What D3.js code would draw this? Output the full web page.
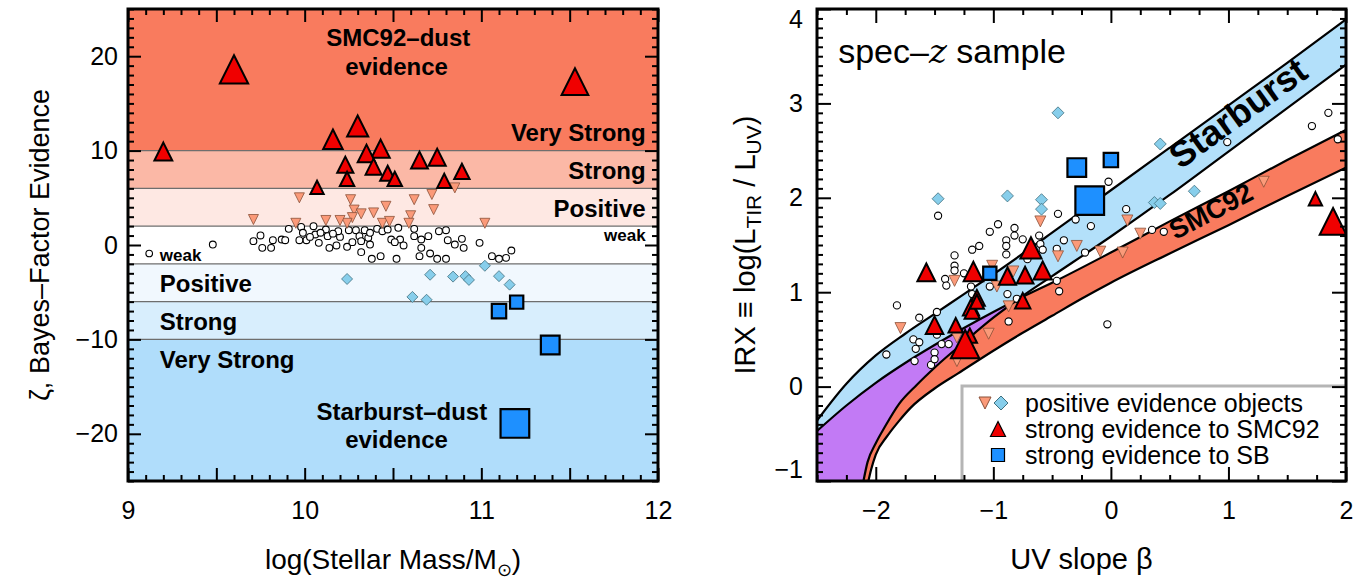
<!DOCTYPE html>
<html>
<head>
<meta charset="utf-8">
<script src="https://cdn.jsdelivr.net/npm/d3@7"></script>
<style>
  body { margin: 0; background: #fff; }
  svg text { font-family: "Liberation Sans", Arial, Helvetica, sans-serif; fill: #000; }
</style>
</head>
<body>
<svg id="fig" width="1371" height="580"></svg>
<script>
// ---------------- Left panel: Bayes-factor evidence vs stellar mass ----------------
const evidenceBounds = [25, 10, 6, 2, -2, -6, -10, -25];

const strongSmcMass = [9.60, 11.53, 9.20, 10.30, 10.16, 10.43, 10.35, 10.23, 10.39, 10.47, 10.51, 10.24, 10.65, 10.75, 10.89, 10.79, 10.07];
const strongSmcZeta = [18.6, 17.3, 9.9, 12.6, 11.2, 10.2, 9.7, 8.5, 8.3, 7.6, 7.0, 7.0, 9.0, 9.3, 7.8, 6.8, 6.1];

const strongSbMass = [11.19, 11.39, 11.10, 11.20];
const strongSbZeta = [-18.9, -10.6, -7.0, -6.05];

const posSmcMass = [9.97, 9.71, 9.95, 10.12, 10.26, 10.28, 10.32, 10.27, 10.24, 10.39, 10.46, 10.44, 10.48, 10.62, 10.60, 10.59, 10.72, 10.73, 10.85, 11.02, 10.20];
const posSmcZeta = [5.0, 2.7, 2.3, 2.6, 4.8, 3.7, 3.3, 2.9, 2.3, 3.4, 4.1, 2.3, 2.5, 4.8, 3.1, 2.3, 5.35, 3.75, 6.05, 2.3, 2.6];

const posSbMass = [10.24, 10.71, 10.84, 10.91, 10.93, 11.02, 11.10, 11.16, 10.61, 10.69];
const posSbZeta = [-3.6, -3.15, -3.35, -3.3, -3.7, -2.2, -3.3, -4.2, -5.5, -5.8];

const weakMass = [9.48, 9.71, 9.75, 9.76, 9.81, 9.82, 9.87, 9.89, 9.91, 9.98,
                  9.99, 10.01, 10.05, 10.06, 10.08, 10.12, 10.13, 10.14, 10.18, 10.20,
                  10.19, 10.24, 10.25, 10.29, 10.31, 10.32, 10.32, 10.34, 10.36, 10.37,
                  10.38, 10.41, 10.43, 10.44, 10.47, 10.49, 10.52, 10.53, 10.54, 10.56,
                  10.62, 10.62, 10.65, 10.66, 10.66, 10.70, 10.71, 10.76, 10.75, 10.80,
                  10.80, 10.81, 10.85, 10.89, 10.90, 10.99, 11.06, 11.10, 11.14, 11.17,
                  9.97, 10.03, 10.37, 10.51, 10.09, 10.16, 10.27];
const weakZeta = [0.05, 0.41, 1.01, -0.30, -0.30, 0.51, 0.58, 0.51, 1.71, 1.92,
                  1.29, 0.51, 1.99, 1.11, 0.23, 1.64, 0.94, -0.30, -0.05, 0.86,
                  1.46, -0.19, 1.57, 1.57, 0.94, 0.41, -0.76, 1.57, 0.76, 0.05,
                  -1.46, 1.71, -1.18, 1.46, 1.64, 0.58, -1.46, 1.82, 0.58, -0.05,
                  1.71, 0.94, -1.18, -0.30, 0.58, 0.94, -0.90, 1.46, -1.46, -1.46,
                  1.57, 0.51, 0.05, 0.65, -0.30, 0.23, -1.18, -1.46, -1.36, -0.58,
                  0.51, 0.86, 1.29, 0.30, 1.30, 1.20, 0.30];

const massTicks = [9, 10, 11, 12];
const zetaTicks = [-20, -10, 0, 10, 20];
const bandLabelsUpper = ["Very Strong", "Strong", "Positive"];
const bandLabelsLower = ["Positive", "Strong", "Very Strong"];

// ---------------- Right panel: IRX vs UV slope ----------------
const sbUpperBeta = [-2.5, -2.25, -2.0, -1.75, -1.5, -1.25, -1.0, -0.5, 0, 0.5, 1, 1.5, 2];
const sbUpperIrx  = [-0.36, 0.03, 0.33, 0.56, 0.77, 0.98, 1.19, 1.63, 2.08, 2.53, 2.98, 3.43, 3.89];
const sbLowerBeta = [-2.12, -2.07, -2.0, -1.92, -1.8, -1.65, -1.5, -1.25, -1.0, -0.75, -0.5, 0, 0.5, 1, 1.5, 2];
const sbLowerIrx  = [-1.1, -0.8, -0.6, -0.42, -0.18, 0.02, 0.20, 0.47, 0.73, 0.96, 1.17, 1.59, 2.03, 2.49, 2.95, 3.41];
const smcUpperBeta = [-2.5, -2.25, -2.0, -1.75, -1.5, -1.25, -1.0, -0.75, -0.5, 0, 0.5, 1, 1.5, 2];
const smcUpperIrx  = [-0.47, -0.2, 0.04, 0.25, 0.44, 0.62, 0.79, 0.95, 1.10, 1.42, 1.75, 2.07, 2.40, 2.72];
const smcLowerBeta = [-2.08, -2.04, -2.0, -1.9, -1.8, -1.7, -1.5, -1.3, -1.0, -0.75, -0.5, -0.25, 0, 0.5, 1, 1.5, 2];
const smcLowerIrx  = [-1.1, -0.88, -0.72, -0.52, -0.36, -0.22, -0.02, 0.14, 0.38, 0.57, 0.75, 0.93, 1.10, 1.41, 1.71, 2.02, 2.32];

const weakBeta = [-1.47, -1.82, -1.91, -1.67, -1.53, -1.63, -1.48, -1.41, -1.40, -1.33,
                  -1.33, -1.33, -1.25, -1.19, -1.18, -1.12, -1.03, -0.96, -0.89, -0.89,
                  -0.89, -0.82, -0.82, -0.75, -0.71, -0.61, -0.60, -0.58, -0.45, -0.46,
                  -0.40, -0.30, -0.22, -0.17, -0.02, -0.03, -0.46, -0.44, -0.87, -0.88,
                  -0.80, -1.48, -1.50, -1.50, -1.44, -1.66, -1.68, -1.63, -1.38, -1.18,
                  -1.03, 0.13, 0.35, 0.45, 0.99, 1.71, 1.85, 1.93];
const weakIrx  = [1.81, 0.86, 0.34, 0.27, 0.23, 0.73, 0.79, 1.14, 1.07, 1.39,
                  1.28, 1.23, 1.20, 1.06, 1.45, 1.49, 1.64, 1.72, 1.55, 1.49,
                  1.40, 1.68, 1.60, 1.56, 1.35, 1.60, 1.51, 1.45, 1.83, 1.46,
                  1.55, 1.77, 1.42, 1.70, 2.17, 0.66, 1.12, 1.01, 0.69, 0.98,
                  0.93, 0.55, 0.36, 0.29, 0.45, 0.40, 0.50, 0.47, 0.45, 0.98,
                  1.06, 1.88, 1.66, 1.64, 2.59, 2.76, 2.90, 2.62];

const posSmcBeta = [-1.79, -1.33, -1.31, -1.31, -1.04, -1.01, -0.97, -0.87, -0.83, -0.60, -0.45, -0.29, -0.09, 0.10, 0.14, 0.25, 1.30];
const posSmcIrx  = [0.62, 1.12, 0.52, 0.27, 0.56, 1.28, 1.06, 0.85, 1.22, 1.75, 1.38, 1.49, 1.43, 1.42, 1.76, 1.62, 2.17];

const posSbBeta = [-0.45, -1.47, -0.88, -0.59, -0.59, 0.42, 0.71, 0.37, 0.42];
const posSbIrx  = [2.90, 1.99, 2.02, 1.98, 1.88, 2.57, 2.07, 1.95, 1.94];

const strongSbBeta = [-0.18, -0.29, 0.00, -1.03];
const strongSbIrx  = [1.97, 2.32, 2.40, 1.20];
const strongSbZetaR = [-18.9, -10.6, -7.0, -6.05];

const strongSmcBeta = [-1.57, -1.17, -0.88, -0.73, -0.58, -0.68, -1.14, -1.19, -1.18, -0.75, -1.50, -1.32, -1.20, -1.24, 1.74, 1.89, -1.14];
const strongSmcIrx  = [1.21, 1.22, 1.17, 1.18, 1.23, 1.47, 0.94, 0.84, 0.80, 0.91, 0.65, 0.65, 0.54, 0.45, 1.99, 1.75, 0.90];
const strongSmcZetaR = [9.9, 11.2, 9.3, 9.0, 10.2, 12.6, 8.3, 8.5, 7.6, 7.8, 9.7, 7.0, 7.0, 18.6, 6.1, 17.3, 6.8];

const betaTicks = [-2, -1, 0, 1, 2];
const irxTicks = [-1, 0, 1, 2, 3, 4];
const legendLabels = ["positive evidence objects", "strong evidence to SMC92", "strong evidence to SB"];

// ---------------- styling ----------------
const C = {
  bands: ["#f97b5e", "#fbb8a6", "#fee8e3", "#ffffff", "#f1f8fe", "#d8eefd", "#b0ddfb"],
  red: "#f00000", blue: "#1e90ff", salmon: "#fb9a79", sky: "#87ceeb",
  sbBand: "#b3e0fa", smcBand: "#f97b5e", overlap: "#c27af5"
};

const svg = d3.select("#fig");
const xL = d3.scaleLinear().domain([9, 12]).range([128, 658]);
const yL = d3.scaleLinear().domain([-25, 25]).range([481, 9]);
const xR = d3.scaleLinear().domain([-2.5, 2]).range([817, 1346]);
const yR = d3.scaleLinear().domain([-1, 4]).range([481, 9]);

// marker shapes centred on the origin, w = full width
const shape = {
  up: w => `M0,${-w / 2}L${w / 2},${w / 2}L${-w / 2},${w / 2}Z`,
  down: w => `M0,${w / 2}L${w / 2},${-w / 2}L${-w / 2},${-w / 2}Z`,
  square: w => `M${-w / 2},${-w / 2}H${w / 2}V${w / 2}H${-w / 2}Z`,
  diamond: w => `M0,${-w / 2}L${w / 2},0L0,${w / 2}L${-w / 2},0Z`
};
const zetaWidth = z => 6 + 1.2 * Math.abs(z);

function markers(g, xs, ys, x, y, kind, width, fill, stroke, sw) {
  g.append("g").selectAll("path").data(d3.range(xs.length)).join("path")
    .attr("transform", i => `translate(${x(xs[i])},${y(ys[i])})`)
    .attr("d", i => shape[kind](typeof width === "function" ? width(i) : width))
    .attr("fill", fill).attr("stroke", stroke).attr("stroke-width", sw)
    .attr("stroke-linejoin", "miter");
}
function circles(g, xs, ys, x, y, r) {
  g.append("g").selectAll("circle").data(d3.range(xs.length)).join("circle")
    .attr("cx", i => x(xs[i])).attr("cy", i => y(ys[i])).attr("r", r)
    .attr("fill", "#fff").attr("stroke", "#000").attr("stroke-width", 1.1);
}

// IDL-style frame: inward ticks on all four sides
function frame(g, x, y, spec) {
  const [x0, x1] = x.range();
  const top = y.range()[1], bottom = y.range()[0];
  const add = (axisFn, scale, vals, len, tx, ty) => {
    g.append("g").attr("transform", `translate(${tx},${ty})`)
      .call(axisFn(scale).tickValues(vals).tickSize(-len).tickFormat(""))
      .call(s => s.select(".domain").remove())
      .call(s => s.selectAll("line").attr("stroke", "#000").attr("stroke-width", 2));
  };
  add(d3.axisBottom, x, spec.xMajor, spec.majLen, 0, bottom);
  add(d3.axisBottom, x, spec.xMinor, spec.minLen, 0, bottom);
  add(d3.axisTop, x, spec.xMajor, spec.majLen, 0, top);
  add(d3.axisTop, x, spec.xMinor, spec.minLen, 0, top);
  add(d3.axisLeft, y, spec.yMajor, spec.majLen, x0, 0);
  add(d3.axisLeft, y, spec.yMinor, spec.minLen, x0, 0);
  add(d3.axisRight, y, spec.yMajor, spec.majLen, x1, 0);
  add(d3.axisRight, y, spec.yMinor, spec.minLen, x1, 0);
  g.append("rect").attr("x", x0).attr("y", top).attr("width", x1 - x0).attr("height", bottom - top)
    .attr("fill", "none").attr("stroke", "#000").attr("stroke-width", 3);
}
const steps = (a, b, s, skip) => d3.range(Math.round((b - a) / s) + 1).map(i => +(a + i * s).toFixed(3))
  .filter(v => !skip.some(m => Math.abs(m - v) < 1e-6));

// ================= LEFT PANEL =================
const gL = svg.append("g");
gL.selectAll("rect.band").data(d3.range(C.bands.length)).join("rect")
  .attr("x", xL(9)).attr("width", xL(12) - xL(9))
  .attr("y", i => yL(evidenceBounds[i]))
  .attr("height", i => yL(evidenceBounds[i + 1]) - yL(evidenceBounds[i]))
  .attr("fill", i => C.bands[i]);
gL.selectAll("line.bound").data(evidenceBounds.slice(1, -1)).join("line")
  .attr("x1", xL(9)).attr("x2", xL(12)).attr("y1", d => yL(d)).attr("y2", d => yL(d))
  .attr("stroke", d => d === 0 ? "#000" : "#6e6e6e")
  .attr("stroke-width", d => d === 0 ? 3 : 1.3);

// evidence labels
const bold = (g, txt, x, y, size, anchor) => g.append("text").text(txt)
  .attr("x", x).attr("y", y).attr("font-size", size).attr("font-weight", "bold")
  .attr("text-anchor", anchor);
bold(gL, "SMC92\u2013dust", xL(10.53), 46, 24, "middle");
bold(gL, "evidence", xL(10.52), 75, 24, "middle");
[141, 179, 217].forEach((yy, i) => bold(gL, bandLabelsUpper[i], xL(11.93), yy, 24, "end"));
bold(gL, "weak", xL(11.93), 241, 17, "end");
bold(gL, "weak", xL(9.18), 261, 17, "start");
[292, 330, 368].forEach((yy, i) => bold(gL, bandLabelsLower[i], xL(9.18), yy, 24, "start"));
bold(gL, "Starburst\u2013dust", xL(10.55), 420, 24, "middle");
bold(gL, "evidence", xL(10.52), 448, 24, "middle");
circles(gL, [9.12], [-0.9], xL, yL, 3.3);

circles(gL, weakMass, weakZeta, xL, yL, 3.4);
markers(gL, posSmcMass, posSmcZeta, xL, yL, "down", 10, C.salmon, "#8a5038", 0.8);
markers(gL, posSbMass, posSbZeta, xL, yL, "diamond", 11, C.sky, "#40707f", 0.8);
markers(gL, strongSmcMass, strongSmcZeta, xL, yL, "up", i => zetaWidth(strongSmcZeta[i]), C.red, "#000", 2);
markers(gL, strongSbMass, strongSbZeta, xL, yL, "square", i => zetaWidth(strongSbZeta[i]), C.blue, "#000", 2.2);

frame(gL, xL, yL, {
  xMajor: steps(9, 12, 0.5, []), xMinor: steps(9, 12, 0.1, steps(9, 12, 0.5, [])),
  yMajor: steps(-20, 20, 10, []), yMinor: steps(-25, 25, 1, steps(-20, 20, 10, [])),
  majLen: 13, minLen: 6
});

// tick labels and titles
const tickLabels = (g, axis, tx, ty, size) => g.append("g").attr("transform", `translate(${tx},${ty})`)
  .call(axis).call(s => s.select(".domain").remove())
  .call(s => s.selectAll("text").attr("font-size", size)
    .attr("font-family", '"Liberation Sans", Arial, sans-serif'));
tickLabels(gL, d3.axisBottom(xL).tickValues(massTicks).tickSize(0).tickPadding(20).tickFormat(d3.format("d")), 0, 481, 25);
tickLabels(gL, d3.axisLeft(yL).tickValues(zetaTicks).tickSize(0).tickPadding(10).tickFormat(d3.format("d")), 128, 0, 25);

const xtL = gL.append("text").attr("x", xL(10.5)).attr("y", 569).attr("font-size", 28).attr("text-anchor", "middle");
xtL.append("tspan").text("log(Stellar Mass/M");
xtL.append("tspan").text("\u2299").attr("font-size", 18).attr("dy", 7);
xtL.append("tspan").text(")").attr("dy", -7);

gL.append("text").attr("transform", `translate(40,${yL(0)}) rotate(-90)`).attr("dy", "0.35em")
  .attr("text-anchor", "middle").attr("font-size", 27).text("\u03B6, Bayes\u2013Factor Evidence");

// ================= RIGHT PANEL =================
const gR = svg.append("g");
const defs = svg.append("defs");
defs.append("clipPath").attr("id", "plotR").append("rect")
  .attr("x", xR(-2.5)).attr("y", yR(4)).attr("width", xR(2) - xR(-2.5)).attr("height", yR(-1) - yR(4));

const pts = (bs, vs) => bs.map((b, i) => [xR(b), yR(vs[i])]);
const curve = d3.line().curve(d3.curveMonotoneX);
const upperA = pts(sbUpperBeta, sbUpperIrx), lowerC = pts(sbLowerBeta, sbLowerIrx);
const upperB = pts(smcUpperBeta, smcUpperIrx), lowerD = pts(smcLowerBeta, smcLowerIrx);
const floor = yR(-1.2);
const bandPath = (hi, lo) => curve(hi) + "L" + curve(lo.slice().reverse()).slice(1)
  + `L${lo[0][0]},${floor}L${hi[0][0]},${floor}Z`;
const sbPath = bandPath(upperA, lowerC), smcPath = bandPath(upperB, lowerD);

defs.append("clipPath").attr("id", "sbArea").append("path").attr("d", sbPath);

const bands = gR.append("g").attr("clip-path", "url(#plotR)");
bands.append("path").attr("d", sbPath).attr("fill", C.sbBand);
bands.append("path").attr("d", smcPath).attr("fill", C.smcBand);
bands.append("g").attr("clip-path", "url(#sbArea)").append("path").attr("d", smcPath).attr("fill", C.overlap);
[upperA, lowerC, upperB, lowerD].forEach(p => bands.append("path").attr("d", curve(p))
  .attr("fill", "none").attr("stroke", "#000").attr("stroke-width", 2.2));

const gP = gR.append("g").attr("clip-path", "url(#plotR)");
circles(gP, weakBeta, weakIrx, xR, yR, 3.6);
markers(gP, posSmcBeta, posSmcIrx, xR, yR, "down", 11, C.salmon, "#8a5038", 0.8);
markers(gP, posSbBeta, posSbIrx, xR, yR, "diamond", 12, C.sky, "#40707f", 0.8);
markers(gP, strongSmcBeta, strongSmcIrx, xR, yR, "up", i => zetaWidth(strongSmcZetaR[i]), C.red, "#000", 2);
markers(gP, strongSbBeta, strongSbIrx, xR, yR, "square", i => zetaWidth(strongSbZetaR[i]), C.blue, "#000", 2.2);

// annotations
const st = gR.append("text").attr("x", xR(-2.32)).attr("y", 63).attr("font-size", 34);
st.append("tspan").text("spec\u2013");
st.append("tspan").text("z").attr("font-style", "italic").attr("font-family", '"DejaVu Serif", serif');
st.append("tspan").text(" sample");

const angleSb = Math.atan2(yR(3.43) - yR(2.53), xR(1.5) - xR(0.5)) * 180 / Math.PI;
gR.append("text").attr("transform", `translate(${xR(1.08)},${yR(2.90)}) rotate(${angleSb})`)
  .attr("text-anchor", "middle").attr("dy", "0.35em").attr("font-size", 36).attr("font-weight", "bold").text("Starburst");
const angleSmc = Math.atan2(yR(2.40) - yR(1.75), xR(1.5) - xR(0.5)) * 180 / Math.PI;
gR.append("text").attr("transform", `translate(${xR(0.85)},${yR(1.86)}) rotate(${angleSmc})`)
  .attr("text-anchor", "middle").attr("dy", "0.35em").attr("font-size", 27).attr("font-weight", "bold").text("SMC92");

// legend (its box runs under the frame on the right and bottom)
const lg = gR.append("g").attr("clip-path", "url(#plotR)");
lg.append("rect").attr("x", 962).attr("y", 386).attr("width", 400).attr("height", 120)
  .attr("fill", "#fff").attr("stroke", "#b5b5b5").attr("stroke-width", 3);
lg.append("path").attr("transform", "translate(985,403)").attr("d", shape.down(12)).attr("fill", C.salmon).attr("stroke", "#8a5038");
lg.append("path").attr("transform", "translate(1001,403)").attr("d", shape.diamond(14)).attr("fill", C.sky).attr("stroke", "#40707f");
lg.append("path").attr("transform", "translate(998,429)").attr("d", shape.up(15)).attr("fill", C.red).attr("stroke", "#000").attr("stroke-width", 1.2);
lg.append("path").attr("transform", "translate(998,455)").attr("d", shape.square(13)).attr("fill", C.blue).attr("stroke", "#000").attr("stroke-width", 1.2);
legendLabels.forEach((t, i) => lg.append("text").attr("x", 1025).attr("y", 412 + i * 26).attr("font-size", 25).text(t));

frame(gR, xR, yR, {
  xMajor: steps(-2, 2, 1, []), xMinor: steps(-2.5, 2, 0.25, steps(-2, 2, 1, [])),
  yMajor: steps(-1, 4, 1, []), yMinor: steps(-1, 4, 0.1, steps(-1, 4, 1, [])),
  majLen: 14, minLen: 6
});

tickLabels(gR, d3.axisBottom(xR).tickValues(betaTicks).tickSize(0).tickPadding(20).tickFormat(d3.format("d")), 0, 481, 25);
tickLabels(gR, d3.axisLeft(yR).tickValues(irxTicks).tickSize(0).tickPadding(14).tickFormat(d3.format("d")), 817, 0, 25)
  .selectAll(".tick text").attr("dy", d => d === 4 ? "0.75em" : d === -1 ? "-0.15em" : "0.32em");

gR.append("text").attr("x", xR(-0.25)).attr("y", 569).attr("font-size", 29).attr("text-anchor", "middle")
  .text("UV slope \u03B2");

const yt = gR.append("text").attr("transform", `translate(745,${yR(1.5)}) rotate(-90)`)
  .attr("dy", "0.35em").attr("text-anchor", "middle").attr("font-size", 29);
yt.append("tspan").text("IRX \u2261 log(L");
yt.append("tspan").text("TIR").attr("font-size", 21).attr("dy", 6);
yt.append("tspan").text(" / L").attr("dy", -6);
yt.append("tspan").text("UV").attr("font-size", 21).attr("dy", 6);
yt.append("tspan").text(")").attr("dy", -6);
</script>
</body>
</html>
